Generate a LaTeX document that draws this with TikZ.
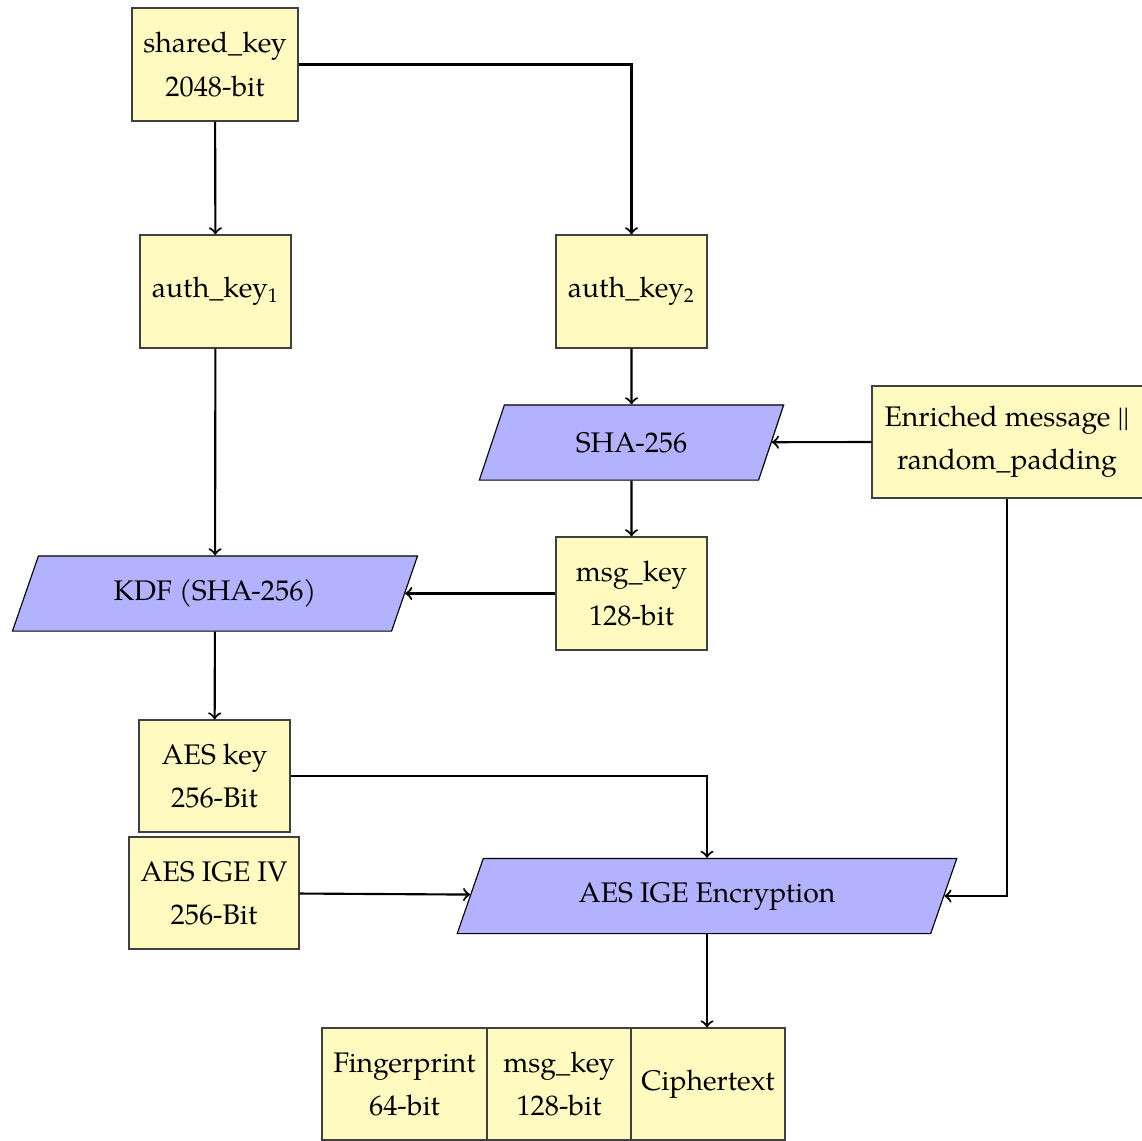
\documentclass[tikz,border=0pt]{standalone}
\usepackage{fontspec}
\setmainfont{TeX Gyre Pagella}
\usetikzlibrary{shapes.geometric}
\definecolor{boxfill}{RGB}{255,250,192}
\definecolor{parafill}{RGB}{178,178,255}
\tikzset{
  keybox/.style={draw=black!75, line width=0.4pt, fill=boxfill, align=center, inner sep=1pt,
    font=\fontsize{10}{15.2}\selectfont},
  para/.style={trapezium, trapezium left angle=62, trapezium right angle=118, trapezium stretches=true,
    draw=black, line width=0.4pt, fill=parafill, inner sep=0pt, font=\fontsize{10}{15.2}\selectfont,
    minimum height=26.5pt},
  conn/.style={draw, line width=0.75pt, ->}
}
\begin{document}
\begin{tikzpicture}[x=0.3528pt,y=0.3528pt]
\useasboundingbox (0,0) rectangle (1142,-1140);
\node[keybox, minimum width=58.6pt, minimum height=39.9pt] (sk) at (215,-64.5) {shared\_key\\2048-bit};
\node[keybox, minimum width=53.3pt, minimum height=39.9pt] (ak1) at (215.5,-291.5) {auth\_key\textsubscript{1}};
\node[keybox, minimum width=53.3pt, minimum height=39.9pt] (ak2) at (631.5,-291.5) {auth\_key\textsubscript{2}};
\node[para, minimum width=107.6pt] (sha) at (631.5,-442.5) {SHA-256};
\node[keybox, minimum width=95.3pt, minimum height=39.5pt] (enr) at (1007,-442) {Enriched message ||\\random\_padding};
\node[keybox, minimum width=53.3pt, minimum height=39.9pt] (mk) at (631.5,-593.5) {msg\_key\\128-bit};
\node[para, minimum width=144pt] (kdf) at (215,-593.5) {KDF (SHA-256)};
\node[keybox, minimum width=53.3pt, minimum height=39.5pt] (aeskey) at (214.5,-776) {AES key\\256-Bit};
\node[keybox, minimum width=60pt, minimum height=39.5pt] (iv) at (214,-893) {AES IGE IV\\256-Bit};
\node[para, minimum width=176.4pt] (enc) at (707,-896) {AES IGE Encryption};
\node[keybox, minimum width=58.2pt, minimum height=39.5pt] (fp) at (404.5,-1084) {Fingerprint\\64-bit};
\node[keybox, minimum width=50.8pt, minimum height=39.5pt] (mk2) at (559,-1084) {msg\_key\\128-bit};
\node[keybox, minimum width=54.3pt, minimum height=39.5pt] (ct) at (708,-1084) {Ciphertext};

\draw[conn] (sk) -- (ak1);
\draw[conn] (sk.east) -| (ak2.north);
\draw[conn] (ak1) -- (kdf);
\draw[conn] (ak2) -- (sha);
\draw[conn] (enr.west) -- (sha);
\draw[conn] (sha) -- (mk);
\draw[conn] (mk) -- (kdf);
\draw[conn] (kdf) -- (aeskey);
\draw[conn] (aeskey.east) -| (enc.north);
\draw[conn] (iv) -- (enc);
\draw[conn] (enr.south) |- (enc.east);
\draw[conn] (enc.south) -- (ct.north -| enc.south);
\end{tikzpicture}
\end{document}
